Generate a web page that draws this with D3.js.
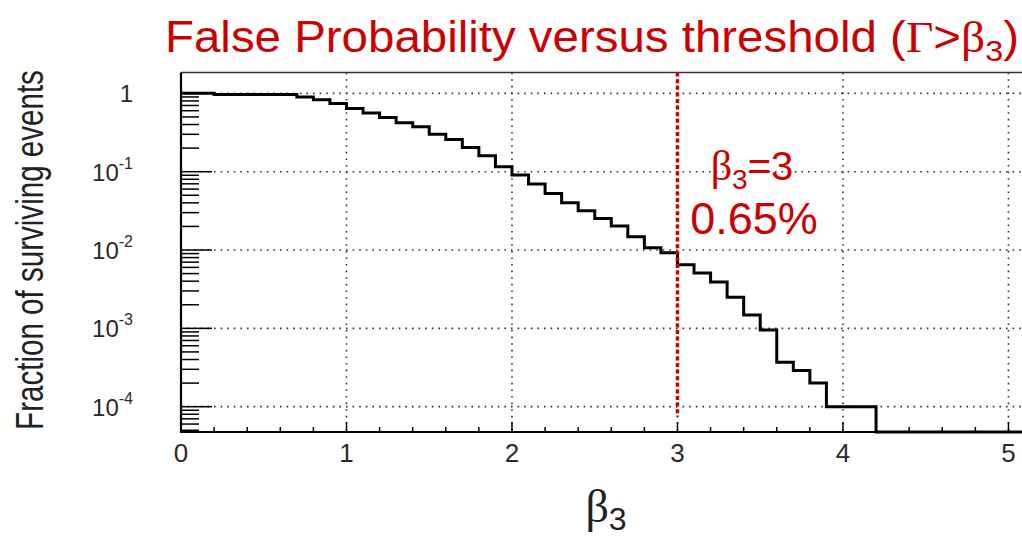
<!DOCTYPE html>
<html>
<head>
<meta charset="utf-8">
<script src="https://cdn.jsdelivr.net/npm/d3@7"></script>
<style>
  body { margin: 0; background: #fff; }
  svg { display: block; }
</style>
</head>
<body>
<div id="chart"></div>
<script>
// histogram: fraction of events with Gamma > beta3, bins of 0.1 starting at 0
const binStart = 0;
const binWidth = 0.1;
const fraction = [
  1.0, 1.0, 0.97, 0.97, 0.97, 0.97, 0.97, 0.90, 0.83, 0.74,
  0.64, 0.56, 0.49, 0.42, 0.375, 0.30, 0.258, 0.204, 0.16, 0.116,
  0.0906, 0.0695, 0.0528, 0.040, 0.0317, 0.0253, 0.0202, 0.0148, 0.0107, 0.0092,
  0.0065, 0.0051, 0.0039, 0.0025, 0.00148, 0.00095, 0.00037, 0.00029, 0.0002, 0.0001,
  0.0001, 0.0001, 0, 0, 0, 0, 0, 0, 0, 0, 0
];
const xTickValues = [0, 1, 2, 3, 4, 5];
const yTickValues = [1, 1e-1, 1e-2, 1e-3, 1e-4];
const yTickExp = ["", "-1", "-2", "-3", "-4"];
const cutValue = 3;
const cutText = "0.65%";
const cutLineBottom = 7.5e-5;

const width = 1022, height = 538;
const frame = { left: 181, right: 1025, top: 72.6, bottom: 432 };
const red = "#cc0000";
const sans = "'Liberation Sans', Arial, sans-serif";
const serif = "'Liberation Serif', 'Times New Roman', serif";

const svg = d3.select("#chart").append("svg")
  .attr("width", width)
  .attr("height", height);

const x = d3.scaleLinear().domain([0, 5.1]).range([frame.left, frame.right]);
const y = d3.scaleLog().domain([4.75e-5, 1.84]).range([frame.bottom, frame.top]);

// dotted grid
const grid = svg.append("g")
  .attr("stroke", "#333")
  .attr("stroke-width", 1.6)
  .attr("stroke-dasharray", "1.6,5");
grid.selectAll(".gy").data(yTickValues).join("line")
  .attr("x1", frame.left).attr("x2", width)
  .attr("y1", d => y(d)).attr("y2", d => y(d));
grid.selectAll(".gx").data(xTickValues.filter(d => d > 0)).join("line")
  .attr("x1", d => x(d)).attr("x2", d => x(d))
  .attr("y1", frame.top).attr("y2", frame.bottom);

// frame top
svg.append("line")
  .attr("x1", frame.left).attr("x2", width)
  .attr("y1", frame.top).attr("y2", frame.top)
  .attr("stroke", "#333").attr("stroke-width", 1.5);

// y axis with log ticks
const yAxis = svg.append("g").attr("transform", `translate(${frame.left},0)`);
const [ymin, ymax] = y.domain();
const minorY = [];
for (let e = -5; e <= 0; e++) {
  for (let m = 2; m <= 9; m++) {
    const v = m * Math.pow(10, e);
    if (v >= ymin && v <= ymax) minorY.push(v);
  }
}
yAxis.selectAll(".minor").data(minorY).join("line")
  .attr("x1", 0).attr("x2", 18)
  .attr("y1", d => y(d)).attr("y2", d => y(d))
  .attr("stroke", "#000").attr("stroke-width", 1.5);
yAxis.selectAll(".major").data(yTickValues).join("line")
  .attr("x1", 0).attr("x2", 31)
  .attr("y1", d => y(d)).attr("y2", d => y(d))
  .attr("stroke", "#000").attr("stroke-width", 1.5);
yAxis.append("line")
  .attr("x1", 0).attr("x2", 0)
  .attr("y1", frame.top).attr("y2", frame.bottom + 1)
  .attr("stroke", "#000").attr("stroke-width", 2.2);

const yLabels = svg.append("g")
  .attr("font-family", sans)
  .attr("fill", "#2a2a2a")
  .attr("text-anchor", "end");
yTickValues.forEach((v, i) => {
  const t = yLabels.append("text")
    .attr("x", 133)
    .attr("y", y(v) + 9)
    .attr("font-size", 24);
  if (yTickExp[i] === "") {
    t.text("1");
  } else {
    t.append("tspan").text("10");
    t.append("tspan").attr("font-size", 16).attr("dy", -12).text(yTickExp[i]);
  }
});

// x axis
const xAxis = svg.append("g").attr("transform", `translate(0,${frame.bottom})`);
const minorX = d3.range(0, 5.1, 0.2).filter(d => Math.abs(d - Math.round(d)) > 1e-6);
xAxis.selectAll(".minor").data(minorX).join("line")
  .attr("x1", d => x(d)).attr("x2", d => x(d))
  .attr("y1", 0).attr("y2", -5)
  .attr("stroke", "#000").attr("stroke-width", 1.5);
xAxis.selectAll(".major").data(xTickValues).join("line")
  .attr("x1", d => x(d)).attr("x2", d => x(d))
  .attr("y1", 0).attr("y2", -10)
  .attr("stroke", "#000").attr("stroke-width", 1.5);
xAxis.append("line")
  .attr("x1", frame.left - 1).attr("x2", width)
  .attr("y1", 0).attr("y2", 0)
  .attr("stroke", "#000").attr("stroke-width", 2.2);
xAxis.selectAll(".lbl").data(xTickValues).join("text")
  .attr("x", d => x(d))
  .attr("y", 30)
  .attr("text-anchor", "middle")
  .attr("font-family", sans)
  .attr("font-size", 26)
  .attr("fill", "#2a2a2a")
  .text(d => d);

// histogram outline
const steps = [];
fraction.forEach((v, i) => {
  const lo = binStart + i * binWidth;
  const val = Math.max(v, ymin);
  steps.push([lo, val], [lo + binWidth, val]);
});
const line = d3.line().x(d => x(d[0])).y(d => y(d[1]));
svg.append("path")
  .attr("d", line(steps))
  .attr("fill", "none")
  .attr("stroke", "#000")
  .attr("stroke-width", 3)
  .attr("stroke-linejoin", "miter");

// threshold marker
svg.append("line")
  .attr("x1", x(cutValue)).attr("x2", x(cutValue))
  .attr("y1", y(ymax)).attr("y2", y(cutLineBottom))
  .attr("stroke", red)
  .attr("stroke-width", 3.5)
  .attr("stroke-dasharray", "4,2.6");

const ann = svg.append("g").attr("fill", red);
const a1 = ann.append("text")
  .attr("x", 752).attr("y", 180)
  .attr("text-anchor", "middle")
  .attr("font-family", sans)
  .attr("font-size", 40);
a1.append("tspan").attr("font-family", serif).attr("font-size", 42).text("β");
a1.append("tspan").attr("font-size", 28).attr("dy", 9).text("3");
a1.append("tspan").attr("dy", -9).text("=" + cutValue);
ann.append("text")
  .attr("x", 754).attr("y", 234)
  .attr("text-anchor", "middle")
  .attr("font-family", sans)
  .attr("font-size", 45)
  .text(cutText);

// title, stretched to span the frame width
const title = svg.append("text")
  .attr("font-family", sans)
  .attr("font-size", 44)
  .attr("fill", red);
title.append("tspan").text("False Probability versus threshold (");
title.append("tspan").attr("font-family", serif).text("Γ");
title.append("tspan").text(">");
title.append("tspan").attr("font-family", serif).text("β");
title.append("tspan").attr("font-size", 30).attr("dy", 9).text("3");
title.append("tspan").attr("dy", -9).text(")");
const titleW = title.node().getBBox().width;
title.attr("transform", `translate(165,52) scale(${854 / titleW},1)`);

// y axis title, condensed to fit the frame height
const yTitle = svg.append("text")
  .attr("text-anchor", "middle")
  .attr("font-family", sans)
  .attr("font-size", 38)
  .attr("fill", "#222")
  .text("Fraction of surviving events");
const yTitleW = yTitle.node().getComputedTextLength();
yTitle.attr("transform", `translate(43,250) rotate(-90) scale(${360 / yTitleW},1)`);

const xt = svg.append("text")
  .attr("x", 606).attr("y", 522)
  .attr("text-anchor", "middle")
  .attr("fill", "#222");
xt.append("tspan").attr("font-family", serif).attr("font-size", 46).text("β");
xt.append("tspan").attr("font-family", sans).attr("font-size", 32).attr("dy", 8).text("3");
</script>
</body>
</html>
